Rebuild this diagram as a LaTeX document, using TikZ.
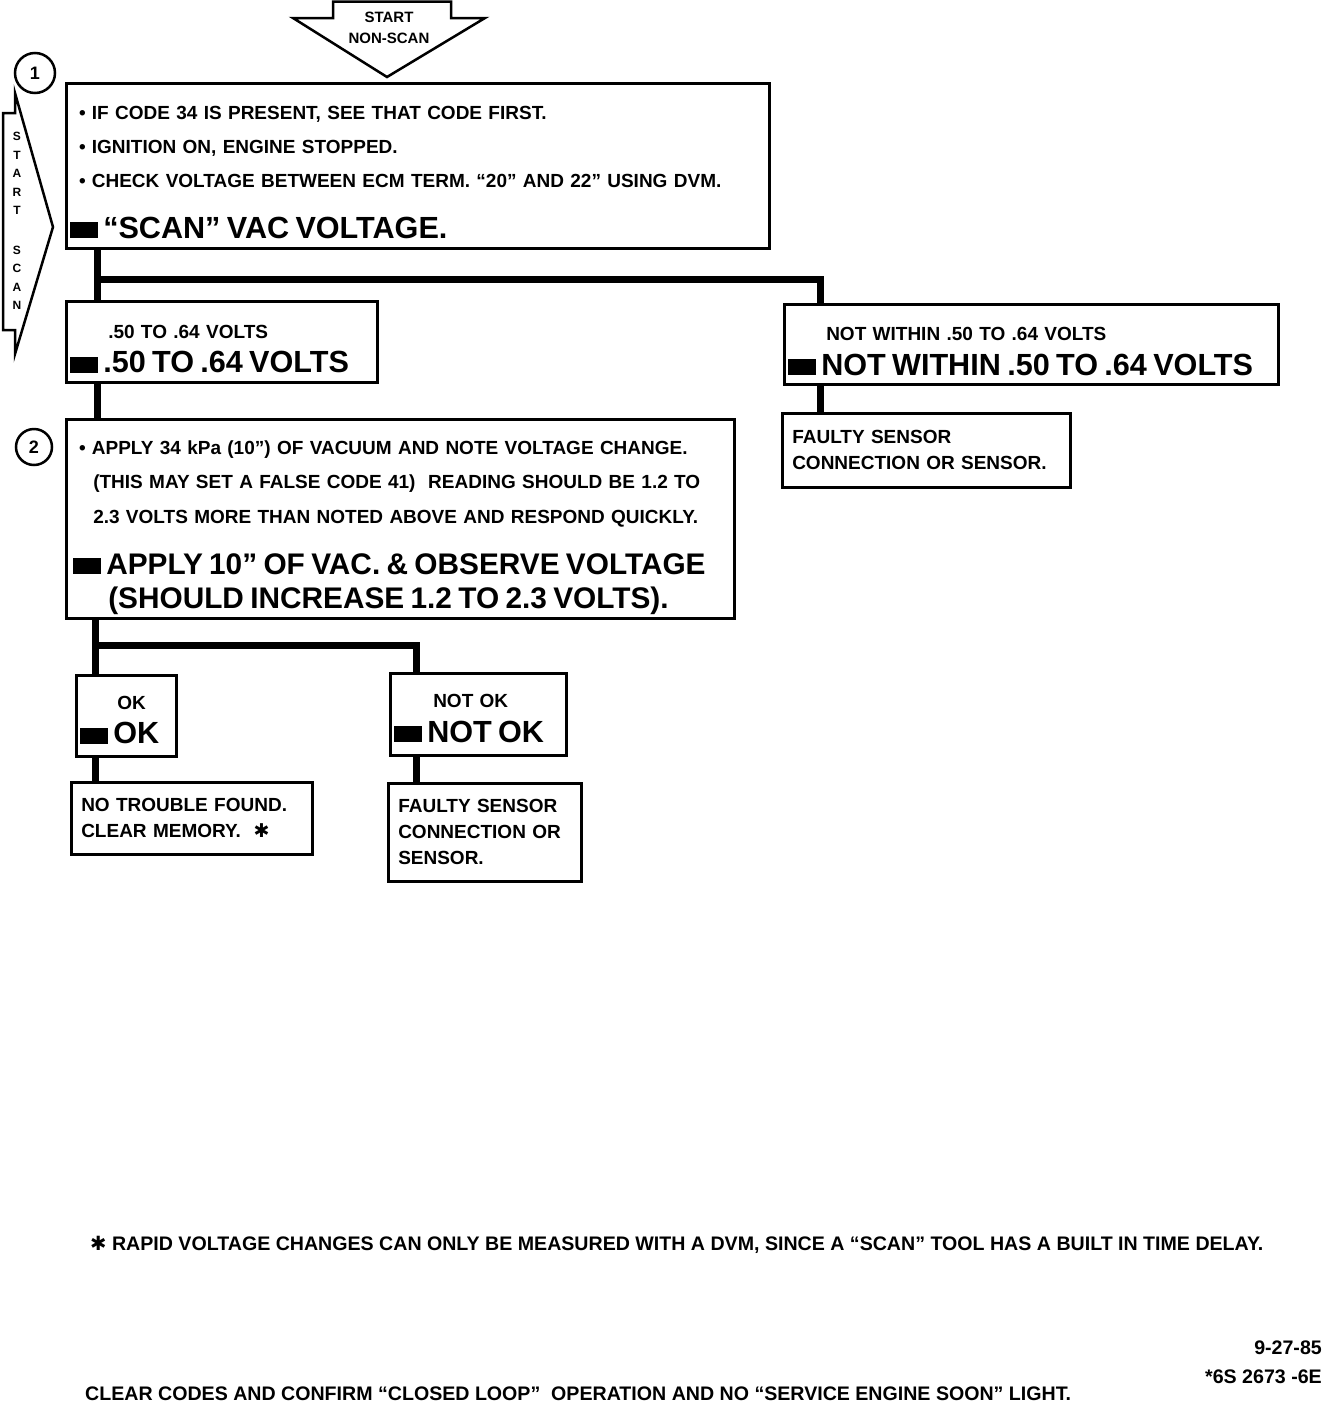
\documentclass[tikz,border=0pt]{standalone}
\usepackage{fontspec}
\setmainfont{Liberation Sans}
\newfontfamily\symfont{DejaVu Sans}
\newcommand{\sm}{\fontsize{19}{34.3}\selectfont\bfseries}
\newcommand{\bg}{\fontsize{30.6}{34.3}\selectfont\bfseries}
\newcommand{\bgn}{\fontsize{29.8}{34.3}\selectfont\bfseries}
\newcommand{\mrk}{\rule{28pt}{16pt}\hspace{5pt}}
\newcommand{\bul}{\hspace*{9pt}\textbullet\hspace{6pt}}
\newcommand{\hvast}{{\symfont ✱}}
\newcommand{\dropby}[1]{\rule{0pt}{#1pt}}
\tikzset{
  box/.style 2 args={draw, line width=2.5pt, anchor=north west, align=left, inner xsep=4pt, inner ysep=0pt,
    minimum width=#1pt, minimum height=#2pt, text width=#1pt-8pt, font=\sm},
  note/.style 2 args={draw, line width=2.5pt, anchor=north west, align=left, inner xsep=10pt, inner ysep=0pt,
    minimum width=#1pt, minimum height=#2pt, text width=#1pt-20pt, font=\fontsize{19}{26}\selectfont\bfseries},
  conn/.style={line width=7pt},
  num/.style={circle, draw, line width=2.5pt, inner sep=0pt, font=\fontsize{18}{18}\selectfont\bfseries},
  plain/.style={inner sep=0pt, font=\fontsize{19.6}{24}\selectfont\bfseries},
}
\begin{document}
\begin{tikzpicture}[x=1pt, y=-1pt]
\useasboundingbox (0,0) rectangle (1344,1414);

% start arrows
\draw[line width=2.5pt, line join=miter] (333,1.5) -- (451,1.5) -- (451,18) -- (485,18) -- (387,77) -- (293,18) -- (333,18) -- cycle;
\node[plain, align=center, font=\fontsize{15}{20.5}\selectfont\bfseries] (nonscan) at (389,28) {START\\NON-SCAN};
\draw[line width=2.5pt, line join=miter] (3,113) -- (15,113) -- (15,93) -- (53,227) -- (15,354) -- (15,330) -- (3,330) -- cycle;
\node[plain, align=center, font=\fontsize{12}{18.5}\selectfont\bfseries] (scan) at (17,221) {S\\T\\A\\R\\T\\[21pt]S\\C\\A\\N};

% step 1
\node[num, minimum size=40pt] (one) at (35,73) {1};
\node[box={703}{165}] (check) at (65,82) {\dropby{26}\bul IF CODE 34 IS PRESENT, SEE THAT CODE FIRST.\\
\bul IGNITION ON, ENGINE STOPPED.\\
\bul CHECK VOLTAGE BETWEEN ECM TERM. “20” AND 22” USING DVM.\\[16pt]
{\bg\mrk “SCAN” VAC VOLTAGE.}};

\node[box={311}{81}] (inrange) at (65,300) {\dropby{28}\hspace*{38pt}.50 TO .64 VOLTS\\
{\bg\mrk .50 TO .64 VOLTS}};
\node[box={494}{80}] (outrange) at (783,303) {\dropby{28}\hspace*{38pt}NOT WITHIN .50 TO .64 VOLTS\\
{\bg\mrk NOT WITHIN .50 TO .64 VOLTS}};
\node[note={288}{74}] (sensor) at (781,412) {FAULTY SENSOR\\CONNECTION OR SENSOR.};

% step 2
\node[num, minimum size=36pt] (two) at (34,447) {2};
\node[box={668}{199}] (vac) at (65,418) {\dropby{32}\bul APPLY 34 kPa (10”) OF VACUUM AND NOTE VOLTAGE CHANGE.\\
\hspace*{23pt}(THIS MAY SET A FALSE CODE 41)\ \ READING SHOULD BE 1.2 TO\\
\hspace*{23pt}2.3 VOLTS MORE THAN NOTED ABOVE AND RESPOND QUICKLY.\\[17pt]
{\bgn\hspace*{3pt}\mrk APPLY 10” OF VAC. \& OBSERVE VOLTAGE}\\
{\bgn\hspace*{38pt}(SHOULD INCREASE 1.2 TO 2.3 VOLTS).}};

\node[box={100}{81}] (ok) at (75,674) {\dropby{22}\hspace*{37pt}OK\\{\bg\mrk OK}};
\node[box={176}{82}] (notok) at (389,672) {\dropby{22}\hspace*{39pt}NOT OK\\{\bg\mrk NOT OK}};
\node[note={241}{72}] (ntf) at (70,781) {NO TROUBLE FOUND.\\CLEAR MEMORY.\ \ \hvast};
\node[note={193}{98}] (faulty) at (387,782) {FAULTY SENSOR\\CONNECTION OR\\SENSOR.};

% connectors
\coordinate (j1) at (97,279);
\coordinate (j2) at (95,645);
\draw[conn] (check.south -| j1) -- (inrange.north -| j1);
\draw[conn] (j1) -| ([xshift=37pt]outrange.north west);
\draw[conn] ([xshift=37pt]outrange.south west) -- ([xshift=37pt]outrange.south west |- sensor.north);
\draw[conn] (inrange.south -| j1) -- (vac.north -| j1);
\draw[conn] (vac.south -| j2) -- (ok.north -| j2);
\draw[conn] (j2) -| ([xshift=27pt]notok.north west);
\draw[conn] (ok.south -| j2) -- (ntf.north -| j2);
\draw[conn] ([xshift=27pt]notok.south west) -- ([xshift=27pt]notok.south west |- faulty.north);

% notes
\node[plain, anchor=base west] (delay) at (90,1250) {\hvast\ RAPID VOLTAGE CHANGES CAN ONLY BE MEASURED WITH A DVM, SINCE A “SCAN” TOOL HAS A BUILT IN TIME DELAY.};
\node[plain, anchor=base west] (clear) at (85,1400) {CLEAR CODES AND CONFIRM “CLOSED LOOP”\ \ OPERATION AND NO “SERVICE ENGINE SOON” LIGHT.};
\node[plain, anchor=base east] (date) at (1322,1354) {9-27-85};
\node[plain, anchor=base east] (code) at (1322,1383) {*6S 2673 -6E};
\end{tikzpicture}
\end{document}
